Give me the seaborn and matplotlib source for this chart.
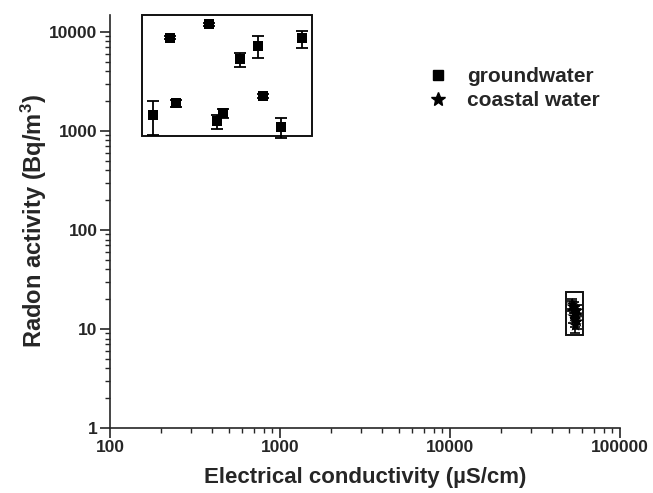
import matplotlib
matplotlib.use('Agg')
import matplotlib.pyplot as plt
import matplotlib.ticker as ticker
from matplotlib.patches import Rectangle
from matplotlib.lines import Line2D
import seaborn as sns
import pandas as pd

# groundwater samples (EC in uS/cm, radon in Bq/m3)
gw_ec = [180, 226, 245, 384, 426, 460, 579, 740, 796, 1007, 1352]
gw_rn = [1450, 8700, 1900, 12000, 1250, 1500, 5300, 7200, 2240, 1100, 8600]
gw_err = [550, 300, 150, 400, 200, 150, 850, 1800, 100, 250, 1700]

# coastal water samples
cw_ec = [52000, 53500, 54000, 55000, 53000, 54500, 56000, 52500, 55500, 54000]
cw_rn = [18.0, 16.5, 15.0, 14.0, 13.5, 12.5, 15.5, 17.0, 12.0, 11.0]
cw_err = [2.0, 2.0, 2.0, 2.0, 2.0, 2.0, 2.0, 2.0, 2.0, 2.0]

# frames drawn round each group: (x0, x1, y0, y1)
gw_box = (154, 1535, 884, 14750)
cw_box = (48300, 60500, 8.6, 23.5)

x_ticks = [100, 1000, 10000, 100000]
y_ticks = [1, 10, 100, 1000, 10000]

sns.set_style('ticks')
plt.rcParams['font.family'] = ['Liberation Sans', 'DejaVu Sans']
plt.rcParams['font.weight'] = 'bold'
plt.rcParams['mathtext.fontset'] = 'custom'
plt.rcParams['mathtext.rm'] = 'Liberation Sans:bold'
plt.rcParams['mathtext.bf'] = 'Liberation Sans:bold'
plt.rcParams['mathtext.default'] = 'bf'

gw = pd.DataFrame({'ec': gw_ec, 'rn': gw_rn})
cw = pd.DataFrame({'ec': cw_ec, 'rn': cw_rn})

fig = plt.figure(figsize=(6.53, 4.93), dpi=100)
ax = fig.add_axes([0.1685, 0.132, 0.781, 0.8375])

ax.errorbar(gw_ec, gw_rn, yerr=gw_err, fmt='none', ecolor='black',
            elinewidth=1.3, capsize=4, capthick=1.3, zorder=2)
ax.errorbar(cw_ec, cw_rn, yerr=cw_err, fmt='none', ecolor='black',
            elinewidth=1.2, capsize=3.5, capthick=1.2, zorder=2)
sns.scatterplot(data=gw, x='ec', y='rn', marker='s', color='black',
                s=58, linewidth=0, ax=ax, zorder=3)
sns.scatterplot(data=cw, x='ec', y='rn', marker='*', color='black',
                s=90, linewidth=0, ax=ax, zorder=3)

for x0, x1, y0, y1 in [gw_box, cw_box]:
    ax.add_patch(Rectangle((x0, y0), x1 - x0, y1 - y0, fill=False,
                           edgecolor='#111111', linewidth=1.4, zorder=1,
                           clip_on=False))

ax.set_xscale('log')
ax.set_yscale('log')
ax.set_xlim(100, 100000)
ax.set_ylim(1, 14800)

ax.xaxis.set_major_locator(ticker.FixedLocator(x_ticks))
ax.yaxis.set_major_locator(ticker.FixedLocator(y_ticks))
ax.set_xticklabels([str(t) for t in x_ticks])
ax.set_yticklabels([str(t) for t in y_ticks])
ax.xaxis.set_minor_locator(ticker.LogLocator(base=10, subs=range(2, 10)))
ax.yaxis.set_minor_locator(ticker.LogLocator(base=10, subs=range(2, 10)))
ax.xaxis.set_minor_formatter(ticker.NullFormatter())
ax.yaxis.set_minor_formatter(ticker.NullFormatter())

ax.tick_params(which='major', direction='out', length=7, width=1.2,
               labelsize=12.5, pad=2)
ax.tick_params(which='minor', direction='out', length=3.5, width=1.0)
for lab in ax.get_xticklabels() + ax.get_yticklabels():
    lab.set_fontweight('bold')

sns.despine(ax=ax)
for side in ['left', 'bottom']:
    ax.spines[side].set_linewidth(1.2)

ax.set_xlabel('Electrical conductivity (\u00b5S/cm)', fontsize=16,
              fontweight='bold', labelpad=8)
ax.set_ylabel('Radon activity (Bq/m$^{3}$)', fontsize=17,
              fontweight='bold', labelpad=0)

handles = [Line2D([], [], marker='s', color='black', linestyle='none',
                  markersize=7.5),
           Line2D([], [], marker='*', color='black', linestyle='none',
                  markersize=10)]
ax.legend(handles, ['groundwater', 'coastal water'], frameon=False,
          loc='upper left', bbox_to_anchor=(0.585, 0.92), fontsize=15,
          handletextpad=0.9, labelspacing=0.25, handlelength=1.0)

fig.savefig('out.png', dpi=100)
